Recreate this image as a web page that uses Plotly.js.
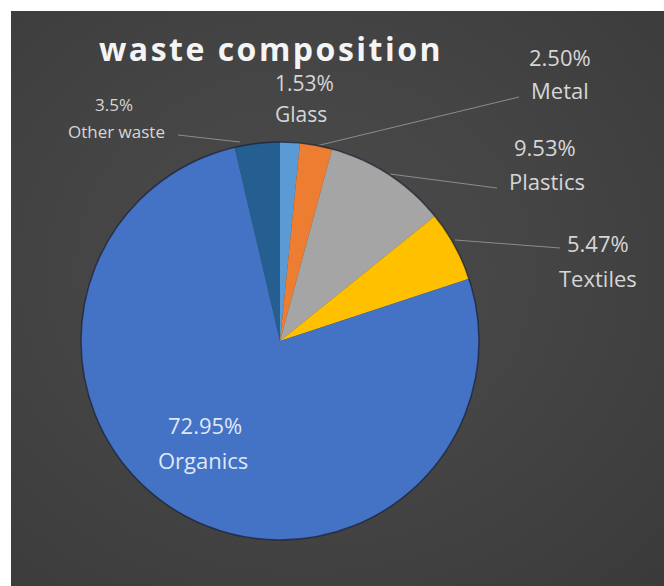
<!DOCTYPE html>
<html>
<head>
<meta charset="utf-8">
<script src="https://cdn.plot.ly/plotly-3.0.1.min.js"></script>
<style>
  html, body { margin: 0; padding: 0; background: #ffffff; }
  #chart {
    position: absolute; left: 11px; top: 11px; width: 653px; height: 575px;
    background: radial-gradient(ellipse at 45% 45%, #4b4b4b 0%, #454545 45%, #3a3a3a 100%);
  }
  #chart .gtitle { letter-spacing: 2.5px; }
</style>
</head>
<body>
<div id="chart"></div>
<script>
// ---- data ----
const labels = ['Glass', 'Metal', 'Plastics', 'Textiles', 'Organics', 'Other waste'];
const values = [1.53, 2.50, 9.53, 5.47, 72.95, 3.5];
const pctText = ['1.53%', '2.50%', '9.53%', '5.47%', '72.95%', '3.5%'];
const colors = ['#5B9BD5', '#ED7D31', '#A5A5A5', '#FFC000', '#4472C4', '#255E91'];
const titleText = 'waste composition';

// ---- layout helpers (page pixels -> paper) ----
const W = 653, H = 575, OFF = 11;
const px = x => (x - OFF) / W;
const py = y => 1 - (y - OFF) / H;

const cx = 280, cy = 341, R = 199;

// label placement (page pixels): [pctX, pctY, nameX, nameY, fontSize]
const place = [
  [304, 83, 301, 114, 21],
  [560, 57, 560, 90, 22],
  [545, 147, 547, 181, 22],
  [598, 243, 598, 278, 22],
  [205, 425, 203, 460, 22],
  [114, 104, 116, 131, 17]
];
const leaders = [
  null,
  [519, 97, 316, 146],
  [497, 188, 390, 174],
  [560, 248, 455, 240],
  null,
  [178, 135, 240, 142]
];

const annotations = [];
labels.forEach((lab, i) => {
  const p = place[i];
  const col = (i === 4) ? '#dfe8f7' : '#d6d6d6';
  const f = {family: 'Open Sans, sans-serif', size: p[4], color: col};
  annotations.push({xref: 'paper', yref: 'paper', x: px(p[0]), y: py(p[1]), text: pctText[i],
    showarrow: false, xanchor: 'center', yanchor: 'middle', font: f});
  annotations.push({xref: 'paper', yref: 'paper', x: px(p[2]), y: py(p[3]), text: lab,
    showarrow: false, xanchor: 'center', yanchor: 'middle', font: f});
});

const shapes = [];
leaders.forEach(l => {
  if (!l) return;
  shapes.push({type: 'line', xref: 'paper', yref: 'paper', x0: px(l[0]), y0: py(l[1]), x1: px(l[2]), y1: py(l[3]),
    line: {color: '#8c8c8c', width: 1}});
});
shapes.push({type: 'circle', xref: 'paper', yref: 'paper', x0: px(cx - R), x1: px(cx + R), y0: py(cy + R), y1: py(cy - R),
  line: {color: 'rgba(25,30,50,0.7)', width: 1.5}});

const trace = {
  type: 'pie',
  labels: labels,
  values: values,
  sort: false,
  direction: 'clockwise',
  rotation: 0,
  textinfo: 'none',
  hoverinfo: 'none',
  marker: {colors: colors, line: {width: 0}},
  showlegend: false,
  domain: {x: [px(cx - R), px(cx + R)], y: [py(cy + R), py(cy - R)]}
};

const layout = {
  width: W, height: H,
  margin: {l: 0, r: 0, t: 0, b: 0},
  paper_bgcolor: 'rgba(0,0,0,0)',
  plot_bgcolor: 'rgba(0,0,0,0)',
  title: {
    text: '<b>' + titleText + '</b>',
    xref: 'paper', yref: 'paper', x: px(271), y: py(50), xanchor: 'center', yanchor: 'middle',
    font: {family: 'Open Sans, sans-serif', size: 32, color: '#f4f4f4'}
  },
  annotations: annotations,
  shapes: shapes
};

Plotly.newPlot('chart', [trace], layout, {displayModeBar: false, staticPlot: true});
</script>
</body>
</html>
